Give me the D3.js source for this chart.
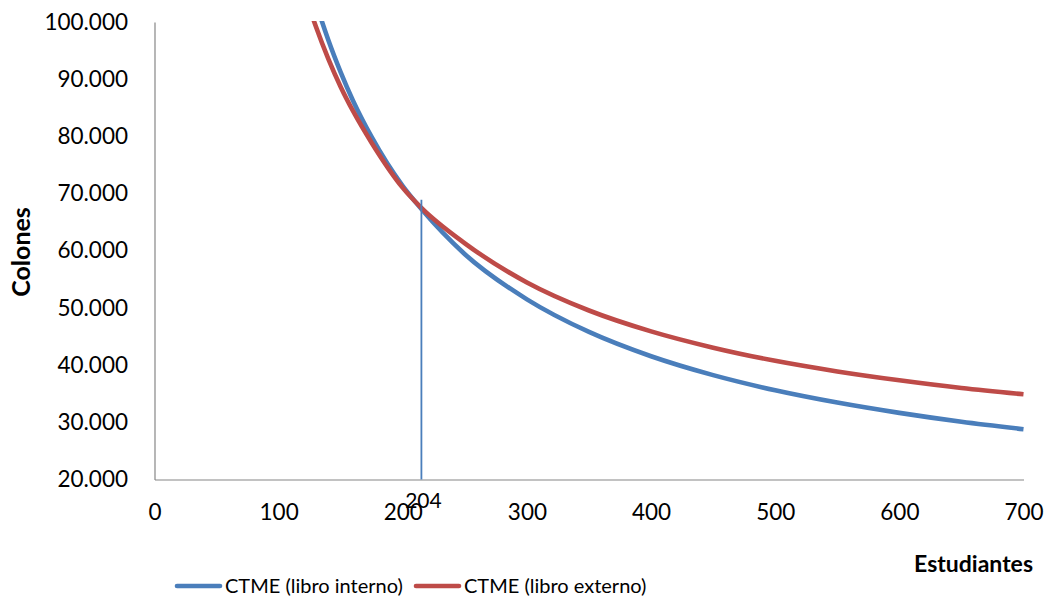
<!DOCTYPE html>
<html>
<head>
<meta charset="utf-8">
<script src="https://cdn.jsdelivr.net/npm/d3@7"></script>
<style>
  html, body { margin: 0; padding: 0; background: #fff; }
  svg { display: block; }
  text { font-family: Lato, "Open Sans", sans-serif; fill: #000; }
</style>
</head>
<body>
<svg id="chart" width="1050" height="600"></svg>
<script>
// ---- data ----
const estudiantes = [125, 130, 140, 150, 160, 175, 200, 215, 250, 300, 350, 400, 450, 500, 550, 600, 650, 700];
const ctmeInterno = [107050, 103400, 96850, 91200, 86200, 79850, 71300, 67300, 59400, 51500, 45800, 41550, 38250, 35600, 33450, 31650, 30100, 28800];
const ctmeExterno = [102350, 99200, 93550, 88650, 84400, 78850, 71000, 67500, 61300, 54450, 49550, 45900, 43050, 40750, 38900, 37350, 36000, 34900];
const seriesNames = ["CTME (libro interno)", "CTME (libro externo)"];
const xTicks = [0, 100, 200, 300, 400, 500, 600, 700];
const yTicks = [20000, 30000, 40000, 50000, 60000, 70000, 80000, 90000, 100000];
const markerX = [215];
const markerTop = [68900];
const markerLabel = ["204"];
const xTitle = "Estudiantes";
const yTitle = "Colones";

(function () {
  const svg = d3.select("#chart");
  const mLeft = 154.5, mRight = 1023.5, mTop = 22, mBottom = 479.5;
  const blue = "#4A7EBB", red = "#BE4B48", axisColor = "#868686";

  const x = d3.scaleLinear().domain([0, 700]).range([mLeft, mRight]);
  const y = d3.scaleLinear().domain([20000, 100000]).range([mBottom, mTop]);

  const fmt = v => d3.format(",.0f")(v).replace(/,/g, ".");

  const yAxis = d3.axisLeft(y).tickValues(yTicks).tickSize(0).tickPadding(26.5).tickFormat(fmt);
  const gy = svg.append("g").attr("transform", `translate(${mLeft},0)`).call(yAxis);
  gy.select(".domain").attr("stroke", axisColor).attr("stroke-width", 1.2);
  gy.selectAll("text").attr("font-size", 22.5).attr("font-family", "Lato, sans-serif").attr("fill", "#000");

  const xAxis = d3.axisBottom(x).tickValues(xTicks).tickSize(0).tickPadding(25).tickFormat(d3.format("d"));
  const gx = svg.append("g").attr("transform", `translate(0,${mBottom})`).call(xAxis);
  gx.select(".domain").attr("stroke", axisColor).attr("stroke-width", 1.2);
  gx.selectAll("text").attr("font-size", 22.5).attr("font-family", "Lato, sans-serif").attr("fill", "#000");

  svg.append("clipPath").attr("id", "plotclip")
    .append("rect").attr("x", mLeft).attr("y", mTop - 1).attr("width", mRight - mLeft + 4).attr("height", mBottom - mTop + 1);

  const line = d3.line().x(d => x(d[0])).y(d => y(d[1])).curve(d3.curveMonotoneX);

  const series = [
    { name: seriesNames[0], color: blue, values: estudiantes.map((e, i) => [e, ctmeInterno[i]]) },
    { name: seriesNames[1], color: red, values: estudiantes.map((e, i) => [e, ctmeExterno[i]]) }
  ];

  const plot = svg.append("g").attr("clip-path", "url(#plotclip)");
  plot.selectAll("path.series").data(series).enter().append("path")
    .attr("class", "series")
    .attr("d", d => line(d.values))
    .attr("fill", "none")
    .attr("stroke", d => d.color)
    .attr("stroke-width", 4.6)
    .attr("stroke-linejoin", "round");

  svg.selectAll("line.marker").data(markerX).enter().append("line")
    .attr("class", "marker")
    .attr("x1", d => x(d)).attr("x2", d => x(d))
    .attr("y1", (d, i) => y(markerTop[i])).attr("y2", y(20000))
    .attr("stroke", blue).attr("stroke-width", 1.8);

  svg.selectAll("text.markerlabel").data(markerX).enter().append("text")
    .attr("class", "markerlabel")
    .attr("x", d => x(d) + 2).attr("y", mBottom + 28.5)
    .attr("text-anchor", "middle")
    .attr("font-size", 21)
    .text((d, i) => markerLabel[i]);

  svg.append("text").attr("x", 1033).attr("y", 572).attr("text-anchor", "end")
    .attr("font-size", 23).attr("font-weight", "bold").text(xTitle);
  svg.append("text").attr("transform", "translate(30,252) rotate(-90)").attr("text-anchor", "middle")
    .attr("font-size", 25).attr("font-weight", "bold").text(yTitle);

  const legendItems = [
    { name: seriesNames[0], color: blue, x0: 177 },
    { name: seriesNames[1], color: red, x0: 416 }
  ];
  const lg = svg.append("g");
  legendItems.forEach(it => {
    lg.append("line").attr("x1", it.x0).attr("x2", it.x0 + 43).attr("y1", 586).attr("y2", 586)
      .attr("stroke", it.color).attr("stroke-width", 4.6).attr("stroke-linecap", "round");
    lg.append("text").attr("x", it.x0 + 48).attr("y", 593).attr("font-size", 20).text(it.name);
  });
})();
</script>
</body>
</html>
